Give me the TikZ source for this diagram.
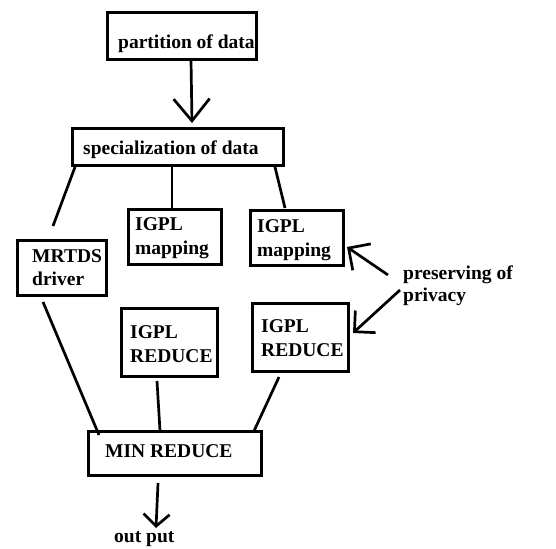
\documentclass[tikz,border=0pt]{standalone}
\usepackage{fontspec}
\setmainfont{Liberation Serif}
\usetikzlibrary{arrows.meta}
\tikzset{
  box/.style={draw, line width=2.8pt, rectangle, inner sep=0pt},
  lbl/.style={anchor=base west, inner sep=0pt, font=\fontsize{19.5}{22}\selectfont\bfseries},
  conn/.style={line width=2.7pt},
}
\begin{document}
\begin{tikzpicture}[x=1pt,y=-1pt]
\useasboundingbox (0,0) rectangle (556,548);
% boxes
\node[box, minimum width=149pt, minimum height=47pt] (part) at (182,36) {};
\node[box, minimum width=211pt, minimum height=37pt] (spec) at (178,147) {};
\node[box, minimum width=89pt, minimum height=55pt] (mrtds) at (62,268) {};
\node[box, minimum width=93pt, minimum height=55pt] (map1) at (175,237) {};
\node[box, minimum width=93pt, minimum height=55pt] (map2) at (297,238) {};
\node[box, minimum width=96pt, minimum height=68pt] (red1) at (169.5,342.5) {};
\node[box, minimum width=96pt, minimum height=68pt] (red2) at (300.5,337.5) {};
\node[box, minimum width=173pt, minimum height=44pt] (minr) at (175,453.5) {};
% texts
\node[lbl] (tpart) at (118,48.5) {partition of data};
\node[lbl] (tspec) at (83,155) {specialization of data};
\node[lbl] (tmr1) at (32,262) {MRTDS};
\node[lbl] (tmr2) at (32,285) {driver};
\node[lbl] (tm11) at (135,230) {IGPL};
\node[lbl] (tm12) at (135,254) {mapping};
\node[lbl] (tm21) at (257,232) {IGPL};
\node[lbl] (tm22) at (257,256) {mapping};
\node[lbl] (tr11) at (130,338) {IGPL};
\node[lbl] (tr12) at (130,362) {REDUCE};
\node[lbl] (tr21) at (261,332) {IGPL};
\node[lbl] (tr22) at (261,356) {REDUCE};
\node[lbl] (tmin) at (105,457) {MIN REDUCE};
\node[lbl] (tpr1) at (403,279) {preserving of};
\node[lbl] (tpr2) at (403,301) {privacy};
\node[lbl] (tout) at (114,542) {out put};
% connector end points
\coordinate (a1s) at (191,60);  \coordinate (a1e) at (192,123);
\coordinate (c1a) at (75,167);  \coordinate (c1b) at (53,226);
\coordinate (c2a) at (172,166); \coordinate (c2b) at (172,209);
\coordinate (c3a) at (275,167); \coordinate (c3b) at (285,208);
\coordinate (c4a) at (43,302);  \coordinate (c4b) at (99,435);
\coordinate (c5a) at (157,381); \coordinate (c5b) at (160,431);
\coordinate (c6a) at (279,377); \coordinate (c6b) at (254,431);
\coordinate (p1s) at (388,275); \coordinate (p1e) at (347,247);
\coordinate (p2s) at (400,290); \coordinate (p2e) at (353,333);
\coordinate (os) at (158,483);  \coordinate (oe) at (156,528);
% connectors
\draw[conn, -{Straight Barb[length=22pt,width=36pt,line width=2.7pt]}] (a1s) -- (a1e);
\draw[conn] (c1a) -- (c1b);
\draw[conn] (c2a) -- (c2b);
\draw[conn] (c3a) -- (c3b);
\draw[conn] (c4a) -- (c4b);
\draw[conn] (c5a) -- (c5b);
\draw[conn] (c6a) -- (c6b);
\draw[conn, -{Straight Barb[length=16pt,width=32pt,line width=2.7pt]}] (p1s) -- (p1e);
\draw[conn, -{Straight Barb[length=15pt,width=30pt,line width=2.7pt]}] (p2s) -- (p2e);
\draw[conn, -{Straight Barb[length=12pt,width=26pt,line width=2.7pt]}] (os) -- (oe);
\end{tikzpicture}
\end{document}
